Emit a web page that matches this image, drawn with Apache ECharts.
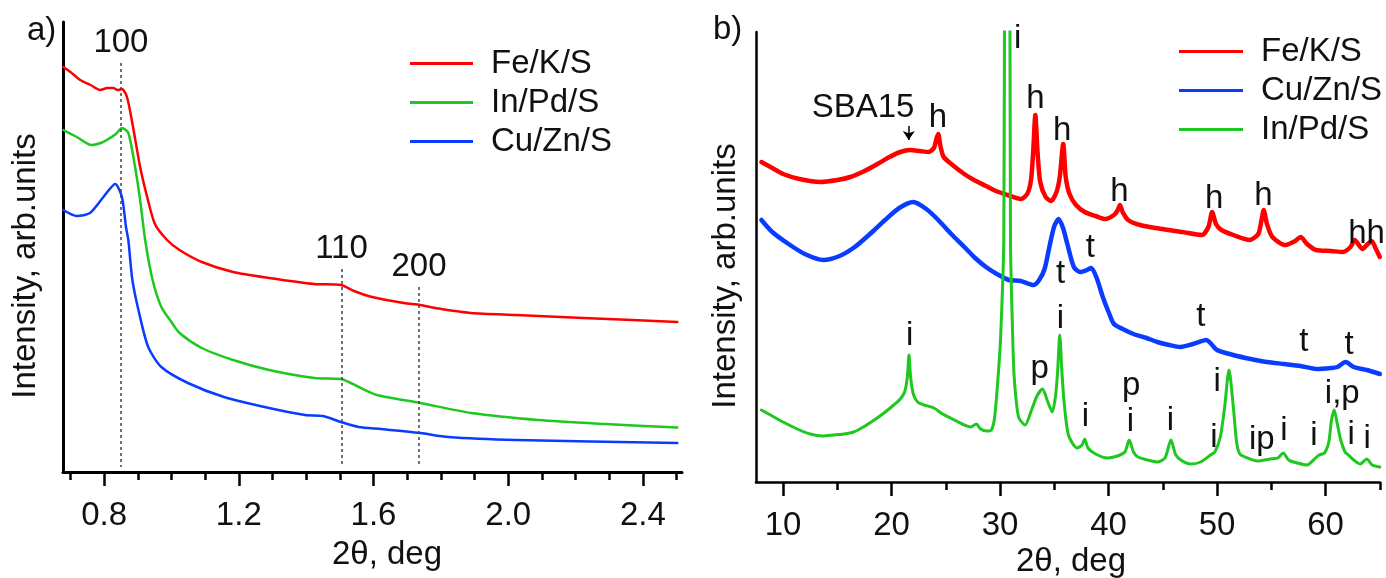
<!DOCTYPE html>
<html>
<head>
<meta charset="utf-8">
<script src="https://cdn.jsdelivr.net/npm/echarts@6/dist/echarts.min.js"></script>
<style>
  html, body { margin: 0; padding: 0; background: #fff; }
  #chart { width: 1386px; height: 578px; }
</style>
</head>
<body>
<div id="chart"></div>
<script>
// ---- a) small-angle XRD: [2theta (deg), intensity (arb. units)] ----
const saFeKS = [[0.679,405],[0.70,400],[0.729,392],[0.76,387],[0.788,382],[0.81,384],[0.827,384],[0.84,382],[0.853,383],[0.868,375],[0.886,345],[0.907,305],[0.928,275],[0.951,248],[0.987,232],[1.024,222],[1.09,210],[1.183,200],[1.29,194],[1.424,188],[1.503,187],[1.542,181],[1.596,175],[1.69,169],[1.739,167],[1.783,164],[1.89,159],[2.023,157],[2.223,154],[2.502,150]];
const saInPdS = [[0.679,342],[0.719,335],[0.763,327],[0.79,329],[0.808,332],[0.835,338],[0.853,344],[0.872,339],[0.892,305],[0.907,272],[0.922,232],[0.944,192],[0.970,165],[1.0,150],[1.024,139],[1.09,124],[1.183,112],[1.29,102],[1.424,94],[1.503,93],[1.556,85],[1.610,77],[1.739,69],[1.89,59],[2.089,52],[2.288,48],[2.502,44.5]];
const saCuZnS = [[0.679,262],[0.719,256],[0.758,259],[0.798,275],[0.833,288],[0.853,275],[0.865,245],[0.872,232],[0.884,192],[0.904,159],[0.931,125],[0.970,105],[1.049,89],[1.156,75],[1.29,64],[1.397,57],[1.45,56],[1.503,50],[1.556,45],[1.623,43],[1.739,39],[1.822,35],[2.023,32],[2.502,29]];
const saTicks = [0.8, 1.2, 1.6, 2.0, 2.4];
const saMinorTicks = [0.7, 0.9, 1.0, 1.1, 1.3, 1.4, 1.5, 1.7, 1.8, 1.9, 2.1, 2.2, 2.3, 2.5];
// hexagonal reflections: [2theta, top of marker line, hkl]
const saReflections = [[0.85, 409, '100'], [1.505, 203, '110'], [1.735, 185, '200']];

// ---- b) wide-angle XRD ----
const waFeKS = [[8.0,320],[9.0,314],[10.0,308],[11.5,303],[13.4,300],[15.0,302],[16.2,305],[17.5,311],[18.7,318],[19.8,325],[20.8,330],[21.7,332],[22.6,331],[23.4,330],[23.9,334],[24.15,344],[24.3,348],[24.5,336],[24.8,325],[25.5,318],[26.7,308],[27.6,302],[28.7,296],[29.6,291],[30.7,287],[31.9,283],[32.5,288],[32.85,302],[33.05,330],[33.25,367],[33.45,330],[33.7,300],[34.2,285],[34.7,281],[35.2,290],[35.5,305],[35.82,338],[36.05,305],[36.4,288],[37.0,277],[37.8,270],[38.8,266],[39.7,263],[40.5,267],[40.85,272],[41.05,277],[41.3,270],[41.8,262],[42.9,257],[44.9,253],[46.8,250],[48.6,247],[49.2,255],[49.55,270],[49.9,258],[50.4,252],[51.5,247],[53.0,242],[53.8,248],[54.1,262],[54.3,272],[54.6,258],[55.1,245],[56.3,237],[57.2,241],[57.7,245],[58.3,238],[59.1,232],[60.5,231],[61.6,230],[62.3,235],[62.7,242],[63.0,238],[63.4,233],[63.8,237],[64.25,241],[64.6,234],[65.0,225]];
const waCuZnS = [[8.0,262],[9.0,250],[10.5,238],[12.0,228],[13.7,222],[15.2,226],[16.6,235],[18.0,248],[19.4,262],[20.7,274],[22.0,280],[23.2,273],[24.3,262],[25.5,248],[26.7,235],[27.7,224],[28.7,215],[29.7,208],[30.8,202],[31.9,201],[33.1,197],[33.6,202],[34.1,213],[34.6,238],[35.0,256],[35.4,263],[35.8,254],[36.2,238],[36.8,215],[37.4,210],[38.0,212],[38.4,214],[38.9,204],[39.5,184],[40.0,170],[40.5,158],[41.3,153],[42.3,148],[43.5,144],[44.5,140],[45.6,137],[46.6,135],[47.8,138],[49.0,142],[50.0,132],[51.5,127],[53.1,123],[54.6,120],[56.2,118],[57.7,116],[59.2,113],[60.5,114],[61.1,115],[61.85,120],[62.6,115],[63.8,112],[65.0,108]];
const waInPdS = [[8.0,72],[9.0,66],[10.0,60],[11.3,53],[12.5,48],[13.6,46],[14.7,47],[15.6,48],[16.5,50],[17.4,55],[18.4,62],[19.3,69],[20.2,77],[20.8,83],[21.2,90],[21.45,105],[21.6,127],[21.75,105],[22.0,88],[22.4,80],[23.0,77],[23.9,74],[24.7,68],[25.6,63],[26.5,58],[27.3,55],[27.8,58],[28.2,53],[28.8,51],[29.2,52],[29.5,65],[29.85,110],[30.05,145],[30.34,242],[30.65,1500],[30.96,242],[31.15,150],[31.3,105],[31.7,65],[32.3,57],[32.9,72],[33.4,86],[33.9,93],[34.4,80],[34.8,70],[35.1,85],[35.3,110],[35.5,147],[35.7,110],[35.9,80],[36.3,47],[37.1,34],[37.55,37],[37.8,43],[38.1,34],[38.8,28],[39.9,24],[40.8,26],[41.5,30],[41.9,42],[42.3,30],[42.7,25],[43.6,22],[44.5,20],[45.2,24],[45.75,42],[46.2,27],[46.8,21],[47.6,18],[48.5,20],[49.4,27],[49.8,30],[50.3,45],[50.7,75],[51.1,112],[51.5,75],[51.8,40],[52.1,28],[52.8,24],[53.7,21],[54.9,23],[55.6,24],[56.1,29],[56.6,22],[57.4,19],[58.3,17],[58.9,22],[59.4,27],[59.9,29],[60.3,40],[60.55,62],[60.8,72],[61.05,60],[61.4,42],[61.8,30],[62.1,27],[62.6,22],[63.2,18],[63.8,23],[64.3,17],[65.0,15]];
const waTicks = [10, 20, 30, 40, 50, 60];
const waMinorTicks = [15, 25, 35, 45, 55, 65];
// phase annotations: [2theta, intensity, text]  h - hematite, t - tenorite, i - In2O3, p - PdO
const phaseLabels = [
  [17.37, 374, 'SBA15'],
  [24.27, 364, 'h'], [33.26, 383, 'h'], [35.72, 351, 'h'], [41.0, 290, 'h'], [49.73, 283, 'h'], [54.27, 286, 'h'], [63.78, 248, 'hh'],
  [35.57, 208, 't'], [38.33, 234, 't'], [48.5, 165, 't'], [58.0, 140, 't'], [62.18, 137, 't'],
  [21.67, 146, 'i'], [31.63, 443, 'i'], [35.57, 163, 'i'], [33.66, 113, 'p'], [37.87, 65, 'i'], [42.08, 96, 'p'], [42.02, 60, 'i'],
  [45.71, 61, 'i'], [50.02, 100, 'i'], [49.7, 44, 'i'], [54.13, 42, 'ip'], [56.16, 51, 'i'], [58.92, 46, 'i'],
  [61.54, 88, 'i,p'], [62.37, 47, 'i'], [63.84, 43, 'i']
];
// SBA15 halo pointer: [2theta, from, to]
const sbaArrow = [21.58, 356, 342];

const FONT = '"Liberation Sans", Arial, Helvetica, sans-serif';
const TXT = '#111';
const RED = '#ff0000', GREEN = '#1ec81e', BLUE = '#0a3cff';
const FS = 33;

const chart = echarts.init(document.getElementById('chart'), null, { renderer: 'canvas' });

function lineSeries(name, data, color, width, xi, yi, extra) {
  return Object.assign({
    type: 'line', name, data, xAxisIndex: xi, yAxisIndex: yi,
    showSymbol: false, symbol: 'none', smooth: 0.25, clip: true,
    lineStyle: { color, width, join: 'round', cap: 'round' }, itemStyle: { color },
    emphasis: { disabled: true }, silent: true
  }, extra || {});
}

function majorAxis(gi, min, max, ticks, fmt, lw) {
  return {
    type: 'value', gridIndex: gi, min, max, position: 'bottom',
    axisLine: { show: true, onZero: false, lineStyle: { color: '#000', width: lw } },
    axisTick: { show: true, customValues: ticks, length: 14, lineStyle: { color: '#000', width: 2.5 } },
    axisLabel: { show: true, customValues: ticks, formatter: fmt, fontSize: FS, fontFamily: FONT, color: TXT, margin: 27 },
    splitLine: { show: false }
  };
}
function minorAxis(gi, min, max, ticks) {
  return {
    type: 'value', gridIndex: gi, min, max, position: 'bottom',
    axisLine: { show: false, onZero: false },
    axisTick: { show: true, customValues: ticks, length: 8, lineStyle: { color: '#000', width: 2.5 } },
    axisLabel: { show: false },
    splitLine: { show: false }
  };
}
function yAx(gi, lw) {
  return {
    type: 'value', gridIndex: gi, min: 0, max: 450,
    axisLine: { show: true, onZero: false, lineStyle: { color: '#000', width: lw } },
    axisTick: { show: false }, axisLabel: { show: false }, splitLine: { show: false }
  };
}
function legendAt(left, top, names, w) {
  return {
    orient: 'vertical', left, top, padding: 0, itemGap: 6,
    itemWidth: w, itemHeight: 3, icon: 'rect', selectedMode: false,
    data: names,
    textStyle: { fontSize: FS, fontFamily: FONT, color: TXT, lineHeight: 33, padding: [0, 0, 0, 13] }
  };
}
function text(x, y, str, opts) {
  return Object.assign({
    type: 'text', x, y, silent: true,
    style: Object.assign({ text: str, fontSize: FS, fontFamily: FONT, fill: TXT, align: 'center', verticalAlign: 'middle' }, (opts && opts.style) || {})
  }, (opts && opts.el) || {});
}

const option = {
  animation: false,
  backgroundColor: '#fff',
  grid: [
    { left: 63, top: 22, right: 704, bottom: 106 },
    { left: 756, top: 32, right: 6, bottom: 96 }
  ],
  xAxis: [
    majorAxis(0, 0.678, 2.516, saTicks, v => v.toFixed(1), 3),
    minorAxis(0, 0.678, 2.516, saMinorTicks),
    majorAxis(1, 7.5, 65.02, waTicks, v => String(v), 2.5),
    minorAxis(1, 7.5, 65.02, waMinorTicks)
  ],
  yAxis: [yAx(0, 3), yAx(1, 2.5)],
  legend: [
    legendAt(410, 47, ['Fe/K/S', 'In/Pd/S', 'Cu/Zn/S'], 63),
    legendAt(1179, 35, ['Fe/K/S', 'Cu/Zn/S', 'In/Pd/S'], 64)
  ],
  graphic: [
    text(27, 31, 'a)', { style: { align: 'left' } }),
    text(713, 30, 'b)', { style: { align: 'left' } }),
    text(26, 266, 'Intensity, arb.units', { el: { rotation: Math.PI / 2 } }),
    text(726, 276, 'Intensity, arb.units', { el: { rotation: Math.PI / 2 } }),
    text(387, 555, '2\u03b8, deg'),
    text(1071, 562, '2\u03b8, deg')
  ],
  series: [
    lineSeries('Fe/K/S', saFeKS, RED, 2.5, 0, 0, {
      markLine: {
        silent: true, animation: false, symbol: ['none', 'none'],
        lineStyle: { type: [3, 3], color: '#444', width: 1.5 },
        label: { show: true, position: 'start', distance: 4, formatter: '{b}', fontSize: FS, fontFamily: FONT, color: TXT },
        emphasis: { disabled: true },
        data: saReflections.map(([x, top, hkl]) => [{ coord: [x, top], name: hkl }, { coord: [x, 5] }])
      }
    }),
    lineSeries('In/Pd/S', saInPdS, GREEN, 2.5, 0, 0),
    lineSeries('Cu/Zn/S', saCuZnS, BLUE, 2.5, 0, 0),
    lineSeries('Fe/K/S', waFeKS, RED, 4.5, 2, 1, {
      markLine: {
        silent: true, animation: false, symbol: ['none', 'arrow'], symbolSize: 9,
        lineStyle: { type: 'solid', color: '#000', width: 1.5 },
        label: { show: false }, emphasis: { disabled: true },
        data: [[{ coord: [sbaArrow[0], sbaArrow[1]] }, { coord: [sbaArrow[0], sbaArrow[2]] }]]
      }
    }),
    lineSeries('Cu/Zn/S', waCuZnS, BLUE, 4.5, 2, 1),
    lineSeries('In/Pd/S', waInPdS, GREEN, 3, 2, 1),
    {
      type: 'scatter', xAxisIndex: 2, yAxisIndex: 1, silent: true, z: 5,
      symbolSize: 0, data: phaseLabels,
      itemStyle: { opacity: 1 },
      label: {
        show: true, position: 'inside', formatter: p => p.data[2],
        fontSize: FS, fontFamily: FONT, color: TXT, align: 'center', verticalAlign: 'middle'
      },
      emphasis: { disabled: true }
    }
  ]
};
chart.setOption(option);
</script>
</body>
</html>
